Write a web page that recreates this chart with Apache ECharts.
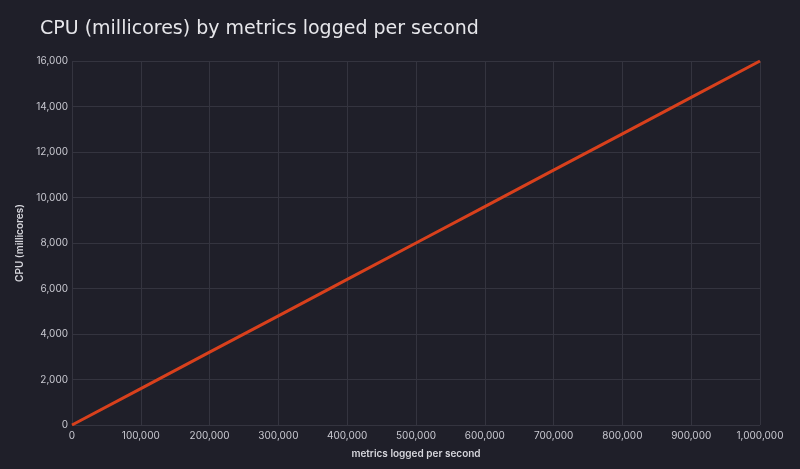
<!DOCTYPE html>
<html>
<head>
<meta charset="utf-8">
<script src="https://cdn.jsdelivr.net/npm/echarts@6/dist/echarts.min.js"></script>
<style>
  html, body { margin: 0; padding: 0; background: #1f1f29; }
  #chart { width: 800px; height: 469px; }
</style>
</head>
<body>
<div id="chart"></div>
<script>
// values
const metricsPerSecond = [0, 100000, 200000, 300000, 400000, 500000, 600000, 700000, 800000, 900000, 1000000];
const cpuMillicores = [0, 1600, 3200, 4800, 6400, 8000, 9600, 11200, 12800, 14400, 16000];

const chart = echarts.init(document.getElementById('chart'));

const fmt = (v) => v.toLocaleString('en-US');

const option = {
  backgroundColor: '#1f1f29',
  animation: false,
  title: {
    text: 'CPU (millicores) by metrics logged per second',
    left: 35,
    top: 15,
    textStyle: { color: '#e6e6ea', fontSize: 19, fontWeight: 'normal', fontFamily: 'DejaVu Sans' }
  },
  grid: { left: 72, right: 40, top: 61, bottom: 44 },
  xAxis: {
    type: 'value',
    min: 0,
    max: 1000000,
    interval: 100000,
    name: 'metrics logged per second',
    nameLocation: 'middle',
    nameGap: 24,
    nameTextStyle: { color: '#d6d6dc', fontSize: 10, fontWeight: 600, fontFamily: 'Inter' },
    axisLine: { show: false },
    axisTick: { show: false },
    axisLabel: { color: '#c8c8d0', fontSize: 10, fontFamily: 'Inter', margin: 6, formatter: fmt },
    splitLine: { lineStyle: { color: '#34343f', width: 1 } }
  },
  yAxis: {
    type: 'value',
    min: 0,
    max: 16000,
    interval: 2000,
    name: 'CPU (millicores)',
    nameLocation: 'middle',
    nameGap: 45,
    nameTextStyle: { color: '#d6d6dc', fontSize: 10, fontWeight: 600, fontFamily: 'Inter' },
    axisLine: { show: false },
    axisTick: { show: false },
    axisLabel: { color: '#c8c8d0', fontSize: 10, fontFamily: 'Inter', margin: 4, formatter: fmt },
    splitLine: { lineStyle: { color: '#34343f', width: 1 } }
  },
  series: [{
    type: 'line',
    data: metricsPerSecond.map((x, i) => [x, cpuMillicores[i]]),
    showSymbol: false,
    lineStyle: { color: '#d8401c', width: 3 },
    itemStyle: { color: '#d8401c' }
  }]
};

option && chart.setOption(option);
</script>
</body>
</html>
